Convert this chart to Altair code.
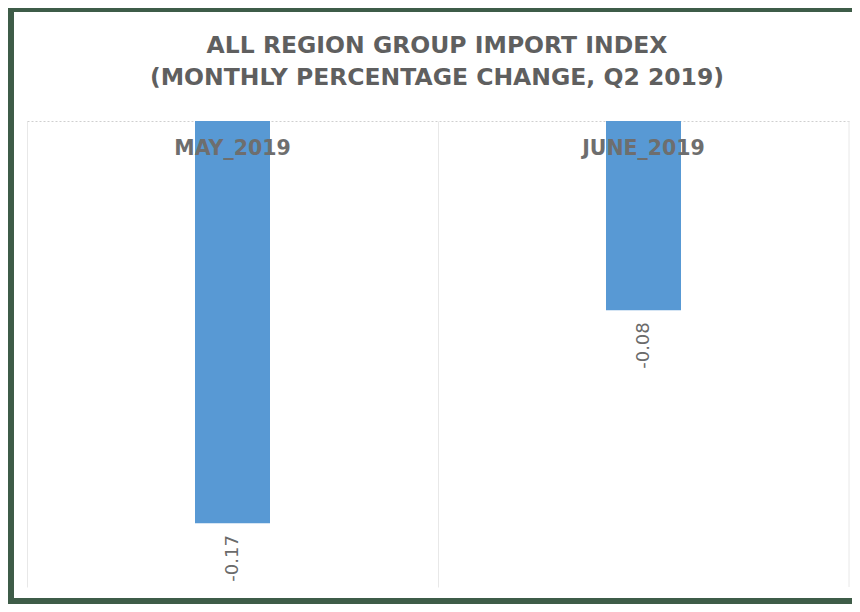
import altair as alt
import pandas as pd

months = ["MAY_2019", "JUNE_2019"]
changes = [-0.17, -0.08]
value_labels = ["-0.17", "-0.08"]
title_lines = ["ALL REGION GROUP IMPORT INDEX", "(MONTHLY PERCENTAGE CHANGE, Q2 2019)"]

df = pd.DataFrame({"month": months, "change": changes, "label": value_labels})

W, H = 822, 466
FRAME = "#3e5c48"
TXT = "#5f5f5f"

x_enc = alt.X(
    "month:N", sort=months,
    scale=alt.Scale(paddingInner=0, paddingOuter=0),
    axis=alt.Axis(orient="top", labels=False, ticks=False, domain=False, grid=True,
                  gridColor="#e8e8e8", bandPosition=0, title=None),
)
y_enc = alt.Y(
    "change:Q",
    scale=alt.Scale(domain=[-0.197, 0], nice=False),
    axis=alt.Axis(values=[0], labels=False, ticks=False, domain=False, grid=True,
                  gridColor="#cfcfcf", gridDash=[2, 2], title=None),
)

base = alt.Chart(df)
bars = base.mark_bar(size=75, color="#5899d4").encode(x=x_enc, y=y_enc)

cat_labels = base.mark_text(
    font="DejaVu Sans", fontSize=20.5, fontWeight="bold", color="#6e6e6e", baseline="middle"
).encode(x=alt.X("month:N", sort=months), y=alt.value(28), text="month:N")

val_labels = base.mark_text(
    font="DejaVu Sans", fontSize=18, color="#6a6a6a", angle=270, align="right",
    baseline="middle", dx=-12
).encode(x=alt.X("month:N", sort=months), y=alt.Y("change:Q"), text="label:N")

one = pd.DataFrame({"a": [0]})
title_style = dict(font="DejaVu Sans", fontSize=23.5, fontWeight="bold", color=TXT,
                   baseline="middle", align="center")
title1 = alt.Chart(one).mark_text(**title_style).encode(
    x=alt.value(W / 2 - 1), y=alt.value(-75), text=alt.value(title_lines[0]))
title2 = alt.Chart(one).mark_text(**title_style).encode(
    x=alt.value(W / 2 - 1), y=alt.value(-43), text=alt.value(title_lines[1]))

right_edge = alt.Chart(one).mark_rule(color="#e8e8e8").encode(
    x=alt.value(W), y=alt.value(0), y2=alt.value(H))
frame_left = alt.Chart(one).mark_rect(color=FRAME).encode(
    x=alt.value(-19), x2=alt.value(-13), y=alt.value(-113), y2=alt.value(483))
frame_top = alt.Chart(one).mark_rect(color=FRAME).encode(
    x=alt.value(-19), x2=alt.value(825), y=alt.value(-113), y2=alt.value(-109))
frame_bottom = alt.Chart(one).mark_rect(color=FRAME).encode(
    x=alt.value(-19), x2=alt.value(825), y=alt.value(477), y2=alt.value(483))

chart = alt.layer(
    frame_left, frame_top, frame_bottom, right_edge, bars, cat_labels, val_labels,
    title1, title2
).properties(
    width=W, height=H,
    padding={"left": 19, "top": 113, "right": 3, "bottom": 17},
    autosize=alt.AutoSizeParams(type="none"),
    background="white",
).configure_view(strokeWidth=0)

chart.save("out.html", embed_options={"renderer": "svg", "actions": False})
